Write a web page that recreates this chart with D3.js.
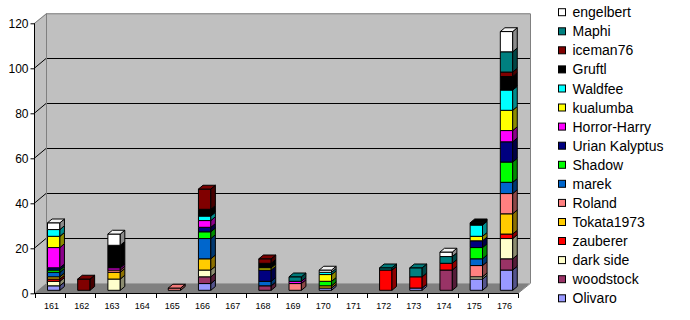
<!DOCTYPE html>
<html>
<head>
<meta charset="utf-8">
<script src="https://cdn.jsdelivr.net/npm/d3@7"></script>
<style>
  html, body { margin: 0; padding: 0; background: #fff; }
  svg { display: block; font-family: "Liberation Sans", Arial, sans-serif; }
</style>
</head>
<body>
<div id="chart"></div>
<script>
var categories = ['161', '162', '163', '164', '165', '166', '167', '168', '169', '170', '171', '172', '173', '174', '175', '176'];

// series, bottom of the stack first
var names = ['Olivaro', 'woodstock', 'dark side', 'zauberer', 'Tokata1973', 'Roland', 'marek', 'Shadow',
             'Urian Kalyptus', 'Horror-Harry', 'kualumba', 'Waldfee', 'Gruftl', 'iceman76', 'Maphi', 'engelbert'];

var olivaro   = [2, 0, 0, 0, 0, 3, 0, 0, 0, 1, 0, 0, 1, 0, 5, 9];
var woodstock = [0, 0, 0, 0, 0, 3, 0, 2, 0, 0, 0, 0, 0, 9, 0, 5];
var darkSide  = [2, 0, 5, 0, 0, 3, 0, 0, 0, 0, 0, 0, 0, 0, 1, 9];
var zauberer  = [1, 0, 0, 0, 0, 0, 0, 0, 0, 0, 0, 9, 5, 3, 0, 2];
var tokata    = [1, 0, 3, 0, 0, 5, 0, 0, 0, 1, 0, 0, 0, 0, 0, 9];
var roland    = [0, 0, 1, 0, 1, 0, 0, 0, 3, 0, 0, 0, 0, 0, 5, 9];
var marek     = [2, 0, 0, 0, 0, 9, 0, 2, 0, 0, 0, 0, 0, 0, 3, 5];
var shadow    = [1, 0, 0, 0, 0, 3, 0, 0, 0, 2, 0, 0, 0, 0, 5, 9];
var urian     = [1, 0, 0, 0, 0, 2, 0, 5, 0, 0, 0, 0, 0, 0, 3, 9];
var horror    = [9, 0, 1, 0, 0, 3, 0, 0, 1, 0, 0, 0, 0, 0, 0, 5];
var kualumba  = [5, 0, 0, 0, 0, 0, 0, 1, 0, 3, 0, 0, 0, 0, 2, 9];
var waldfee   = [3, 0, 0, 0, 0, 2, 0, 0, 0, 1, 0, 0, 0, 0, 5, 9];
var gruftl    = [0, 0, 10, 0, 0, 3, 0, 2, 0, 0, 0, 0, 0, 0, 1, 6];
var iceman    = [0, 5, 0, 0, 0, 9, 0, 2, 0, 0, 0, 0, 0, 0, 0, 2];
var maphi     = [0, 0, 0, 0, 0, 0, 0, 0, 2, 0, 0, 1, 4, 3, 0, 9];
var engelbert = [3, 0, 5, 0, 0, 0, 0, 0, 0, 1, 0, 0, 0, 2, 0, 9];

var values = [olivaro, woodstock, darkSide, zauberer, tokata, roland, marek, shadow,
              urian, horror, kualumba, waldfee, gruftl, iceman, maphi, engelbert];

var colors = ['#9999FF', '#993366', '#FFFFCC', '#FF0000', '#FFCC00', '#FF8080', '#0066CC', '#00FF00',
              '#000080', '#FF00FF', '#FFFF00', '#00FFFF', '#000000', '#800000', '#008080', '#FFFFFF'];

var yTicks = [0, 20, 40, 60, 80, 100, 120];

var width = 690, height = 320;

// depth of the box, and where the bars sit inside it
var DX = 12, DY = -10;
var bar0 = 0.3, bar1 = 0.68;

var svg = d3.select('#chart').append('svg')
    .attr('width', width)
    .attr('height', height);

var x = d3.scaleBand()
    .domain(categories)
    .range([35, 518]);

var y = d3.scaleLinear()
    .domain([0, 120])
    .range([293.3, 23.3]);

var poly = (pts) => 'M' + pts.map((p) => p.join(',')).join('L') + 'Z';

// walls
{
  let y0 = y(0), yt = y(120);
  let xl = x.range()[0] - 1, xr = x.range()[1];

  // left side wall
  svg.append('path')
      .attr('d', poly([[xl, y0], [xl, yt], [xl + DX, yt + DY], [xl + DX, y0 + DY]]))
      .attr('fill', '#c0c0c0');

  // back wall
  svg.append('path')
      .attr('d', poly([[xl + DX, yt + DY], [xr + DX, yt + DY], [xr + DX, y0 + DY], [xl + DX, y0 + DY]]))
      .attr('fill', '#c0c0c0');

  // floor
  svg.append('path')
      .attr('d', poly([[xl, y0], [xl + DX, y0 + DY], [xr + DX, y0 + DY], [xr, y0]]))
      .attr('fill', '#808080');

  // gridlines on the side wall and back wall
  let grid = svg.append('g')
      .attr('fill', 'none')
      .attr('stroke', '#000')
      .attr('stroke-width', 1);

  yTicks.filter((t) => t > 0 && t < 120).forEach((t) => {
    let yy = Math.round(y(t)) + 0.5;
    grid.append('path')
        .attr('d', `M${xl},${yy}L${xl + DX},${yy + DY}L${xr + DX},${yy + DY}`);
  });

  // frame edges
  svg.append('path')
      .attr('d', `M${xl + 0.5},${yt}L${xl + DX + 0.5},${yt + DY + 0.5}L${xr + DX + 0.5},${yt + DY + 0.5}L${xr + DX + 0.5},${y0 + DY}L${xr},${y0}`
                 + `M${xl + DX + 0.5},${yt + DY}L${xl + DX + 0.5},${y0 + DY}`)
      .attr('fill', 'none')
      .attr('stroke', '#808080');
}

// bars
{
  let stack = d3.stack()
      .keys(d3.range(names.length))
      .value((d, k) => values[k][d]);

  let series = stack(d3.range(categories.length));

  let bw = x.bandwidth() * 0.41;
  let ox = DX * bar0, oy = DY * bar0;
  let dx = DX * (bar1 - bar0), dy = DY * (bar1 - bar0);

  let g = svg.append('g')
      .attr('stroke', '#000')
      .attr('stroke-width', 1)
      .attr('stroke-linejoin', 'miter');

  categories.forEach((c, i) => {
    let cx = x(c) + x.bandwidth() / 2 + ox;
    let x0 = cx - bw / 2, x1 = cx + bw / 2;
    let segs = series.map((s, k) => ({ k: k, lo: s[i][0], hi: s[i][1] })).filter((s) => s.hi > s.lo);

    segs.forEach((s, j) => {
      let yb = y(s.lo) + oy, yt = y(s.hi) + oy;
      let col = colors[s.k];
      let side = d3.rgb(col);
      side = d3.rgb(side.r * 0.55, side.g * 0.55, side.b * 0.55);

      g.append('path')
          .attr('d', poly([[x0, yb], [x0, yt], [x1, yt], [x1, yb]]))
          .attr('fill', col);

      g.append('path')
          .attr('d', poly([[x1, yb], [x1, yt], [x1 + dx, yt + dy], [x1 + dx, yb + dy]]))
          .attr('fill', side.formatHex());

      if (j === segs.length - 1) {
        g.append('path')
            .attr('d', poly([[x0, yt], [x0 + dx, yt + dy], [x1 + dx, yt + dy], [x1, yt]]))
            .attr('fill', d3.rgb(col).darker(0.15).formatHex());
      }
    });
  });
}

// axes
{
  let yAxis = d3.axisLeft(y)
      .tickValues(yTicks)
      .tickSize(4)
      .tickPadding(2);

  svg.append('g')
      .attr('transform', 'translate(34.5,0)')
      .call(yAxis)
      .call((a) => a.select('.domain').attr('d', `M0,${y(120)}V${y(0) + 0.5}`))
      .call((a) => a.selectAll('text').attr('font-size', 12).attr('font-family', '"Liberation Sans", Arial, sans-serif').attr('fill', '#000'));

  let xa = svg.append('g');

  xa.append('path')
      .attr('d', `M34,${Math.round(y(0)) + 0.5}H${x.range()[1] + 0.5}`)
      .attr('stroke', '#000');

  xa.selectAll('line.tick')
      .data(categories.concat(['end']))
      .enter().append('line')
      .attr('x1', (d, i) => Math.round(i < categories.length ? x(d) : x.range()[1]) + 0.5)
      .attr('x2', (d, i) => Math.round(i < categories.length ? x(d) : x.range()[1]) + 0.5)
      .attr('y1', Math.round(y(0)) + 0.5)
      .attr('y2', Math.round(y(0)) + 5)
      .attr('stroke', '#000');

  xa.selectAll('text')
      .data(categories)
      .enter().append('text')
      .attr('x', (d) => x(d) + x.bandwidth() / 2 + 1.5)
      .attr('y', 309)
      .attr('text-anchor', 'middle')
      .attr('font-size', 9)
      .text((d) => d);
}

// legend, top of the stack first
{
  let order = d3.range(names.length).reverse();

  let items = svg.append('g')
      .selectAll('g')
      .data(order)
      .enter().append('g')
      .attr('transform', (d, i) => `translate(558.5, ${(12.2 + i * 19.07).toFixed(1)})`);

  items.append('rect')
      .attr('x', 0)
      .attr('y', -3.5)
      .attr('width', 7)
      .attr('height', 7)
      .attr('fill', (d) => colors[d])
      .attr('stroke', '#000');

  items.append('text')
      .attr('x', 14)
      .attr('y', 5)
      .attr('font-size', 14)
      .text((d) => names[d]);
}
</script>
</body>
</html>
